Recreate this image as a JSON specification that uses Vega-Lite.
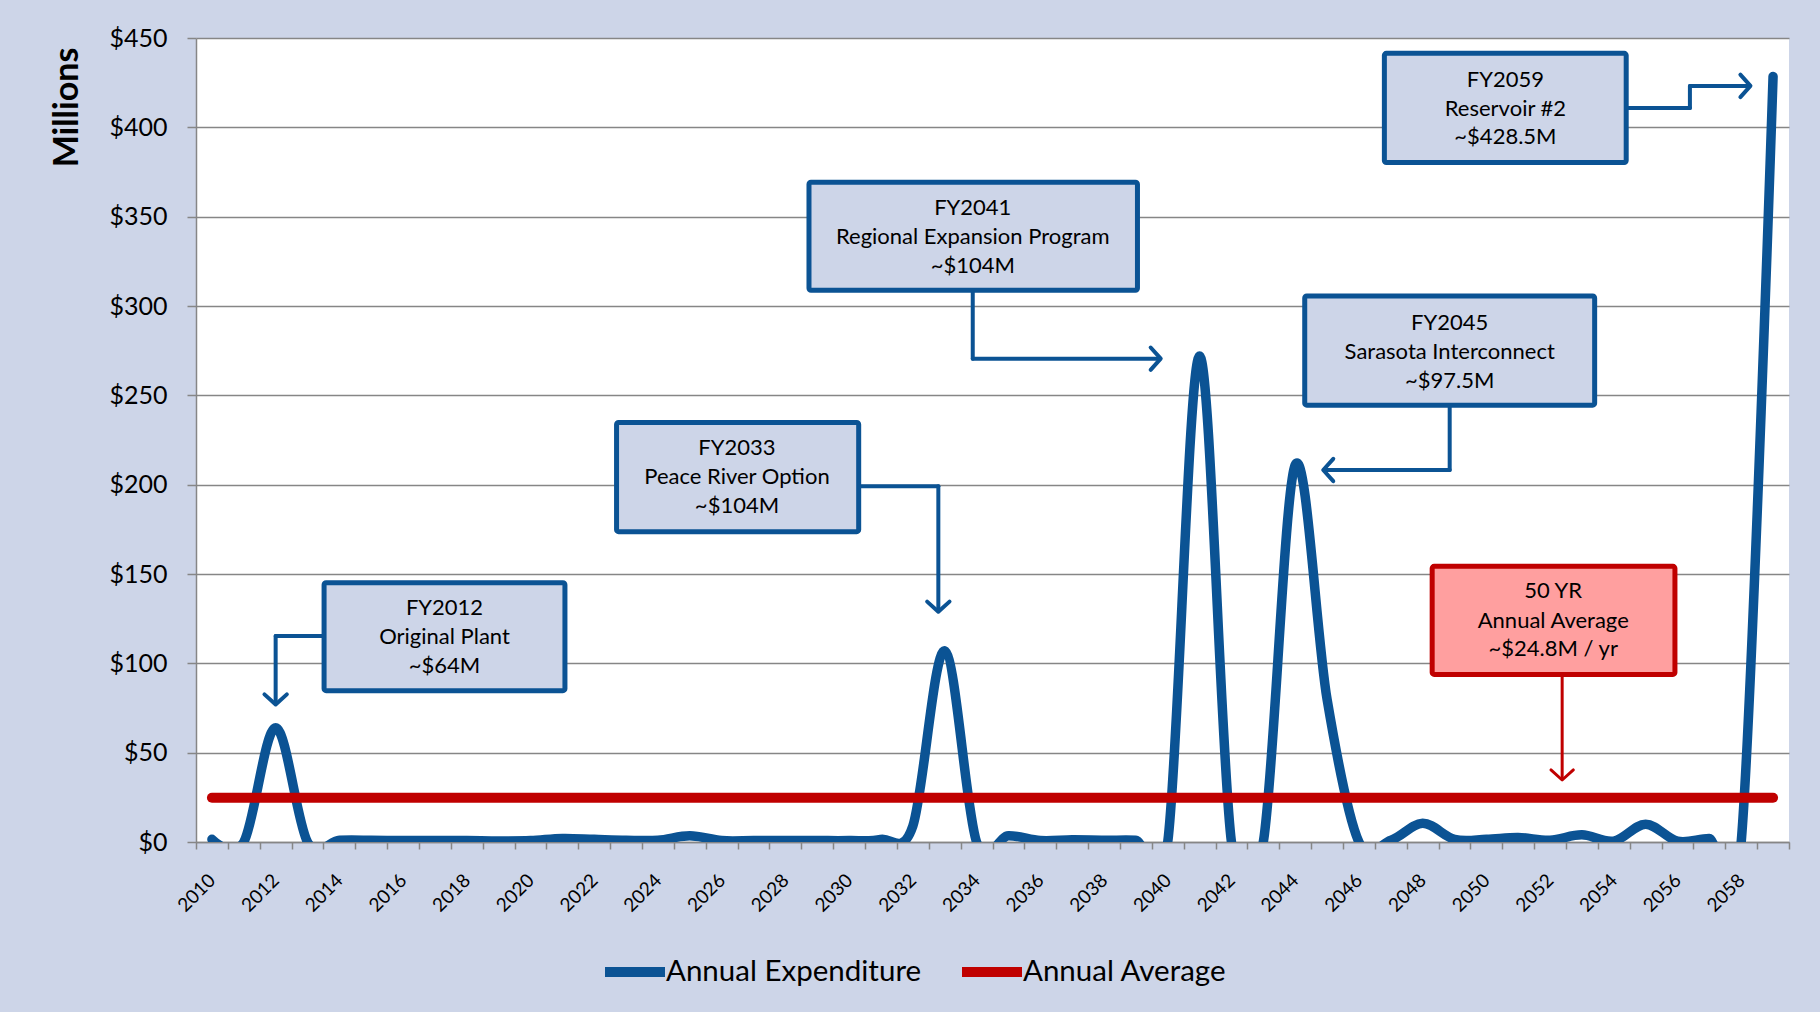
{
  "$schema": "https://vega.github.io/schema/vega-lite/v6.json",
  "width": 1593,
  "height": 804,
  "autosize": {"type": "none"},
  "padding": {"left": 196, "top": 38, "right": 31, "bottom": 170},
  "background": "#CDD5E8",
  "config": {
    "font": "Lato",
    "view": {"fill": "white", "stroke": null}
  },
  "datasets": {
    "exp": [
      {"year": 2010, "value": 1.5}, {"year": 2011, "value": 0}, {"year": 2012, "value": 64}, {"year": 2013, "value": 0},
      {"year": 2014, "value": 1}, {"year": 2015, "value": 1}, {"year": 2016, "value": 0.8}, {"year": 2017, "value": 0.8},
      {"year": 2018, "value": 0.8}, {"year": 2019, "value": 0.6}, {"year": 2020, "value": 0.8}, {"year": 2021, "value": 2},
      {"year": 2022, "value": 1.5}, {"year": 2023, "value": 1}, {"year": 2024, "value": 1}, {"year": 2025, "value": 3.5},
      {"year": 2026, "value": 0.8}, {"year": 2027, "value": 0.8}, {"year": 2028, "value": 0.8}, {"year": 2029, "value": 0.8},
      {"year": 2030, "value": 0.8}, {"year": 2031, "value": 1.5}, {"year": 2032, "value": 9}, {"year": 2033, "value": 107},
      {"year": 2034, "value": 0}, {"year": 2035, "value": 3.5}, {"year": 2036, "value": 0.8}, {"year": 2037, "value": 1.2},
      {"year": 2038, "value": 1}, {"year": 2039, "value": 1}, {"year": 2040, "value": 0}, {"year": 2041, "value": 272},
      {"year": 2042, "value": 0}, {"year": 2043, "value": 0}, {"year": 2044, "value": 211}, {"year": 2045, "value": 80},
      {"year": 2046, "value": 0}, {"year": 2047, "value": 1}, {"year": 2048, "value": 10.5}, {"year": 2049, "value": 1.5},
      {"year": 2050, "value": 1.5}, {"year": 2051, "value": 2.5}, {"year": 2052, "value": 1}, {"year": 2053, "value": 4},
      {"year": 2054, "value": 0.5}, {"year": 2055, "value": 10}, {"year": 2056, "value": 0.5}, {"year": 2057, "value": 2},
      {"year": 2058, "value": 0}, {"year": 2059, "value": 428.5}
    ],
    "avg": [
      {"year": 2010, "value": 24.8}, {"year": 2059, "value": 24.8}
    ],
    "boxes": [
      {"x1": 2013.52, "x2": 2021.08, "y1": 145.1, "y2": 84.7, "group": "expenditure"},
      {"x1": 2022.7, "x2": 2030.3, "y1": 234.8, "y2": 173.7, "group": "expenditure"},
      {"x1": 2028.74, "x2": 2039.05, "y1": 369.3, "y2": 308.8, "group": "expenditure"},
      {"x1": 2044.3, "x2": 2053.4, "y1": 305.6, "y2": 244.5, "group": "expenditure"},
      {"x1": 2046.8, "x2": 2054.39, "y1": 441.4, "y2": 380.3, "group": "expenditure"},
      {"x1": 2048.3, "x2": 2055.92, "y1": 154.3, "y2": 93.8, "group": "average"}
    ],
    "labels": [
      {"x": 2017.3, "y": 131, "text": "FY2012"},
      {"x": 2017.3, "y": 114.7, "text": "Original Plant"},
      {"x": 2017.3, "y": 98.5, "text": "~$64M"},
      {"x": 2026.48, "y": 220.5, "text": "FY2033"},
      {"x": 2026.48, "y": 204.3, "text": "Peace River Option"},
      {"x": 2026.48, "y": 188, "text": "~$104M"},
      {"x": 2033.88, "y": 355, "text": "FY2041"},
      {"x": 2033.88, "y": 338.7, "text": "Regional Expansion Program"},
      {"x": 2033.88, "y": 322.5, "text": "~$104M"},
      {"x": 2048.85, "y": 290.7, "text": "FY2045"},
      {"x": 2048.85, "y": 274.4, "text": "Sarasota Interconnect"},
      {"x": 2048.85, "y": 258.2, "text": "~$97.5M"},
      {"x": 2050.6, "y": 426.4, "text": "FY2059"},
      {"x": 2050.6, "y": 410.2, "text": "Reservoir #2"},
      {"x": 2050.6, "y": 394.6, "text": "~$428.5M"},
      {"x": 2052.1, "y": 140.6, "text": "50 YR"},
      {"x": 2052.1, "y": 123.7, "text": "Annual Average"},
      {"x": 2052.1, "y": 108.1, "text": "~$24.8M / yr"}
    ],
    "segs": [
      {"x": 2013.52, "x2": 2012.0, "y": 115.3, "y2": 115.3, "group": "expenditure"},
      {"x": 2012.0, "x2": 2012.0, "y": 115.3, "y2": 78, "group": "expenditure"},
      {"x": 2030.3, "x2": 2032.8, "y": 199.1, "y2": 199.1, "group": "expenditure"},
      {"x": 2032.8, "x2": 2032.8, "y": 199.1, "y2": 130, "group": "expenditure"},
      {"x": 2033.88, "x2": 2033.88, "y": 308.8, "y2": 270.5, "group": "expenditure"},
      {"x": 2033.88, "x2": 2039.72, "y": 270.5, "y2": 270.5, "group": "expenditure"},
      {"x": 2048.85, "x2": 2048.85, "y": 244.5, "y2": 208.2, "group": "expenditure"},
      {"x": 2048.85, "x2": 2044.95, "y": 208.2, "y2": 208.2, "group": "expenditure"},
      {"x": 2054.39, "x2": 2056.39, "y": 410.8, "y2": 410.8, "group": "expenditure"},
      {"x": 2056.39, "x2": 2056.39, "y": 410.8, "y2": 423.2, "group": "expenditure"},
      {"x": 2056.39, "x2": 2058.22, "y": 423.2, "y2": 423.2, "group": "expenditure"},
      {"x": 2052.38, "x2": 2052.38, "y": 93.8, "y2": 36, "group": "average"}
    ],
    "heads": [
      {"x": 2012.0, "y": 77, "dir": "down", "group": "expenditure"},
      {"x": 2032.8, "y": 128.9, "dir": "down", "group": "expenditure"},
      {"x": 2039.78, "y": 270.5, "dir": "right", "group": "expenditure"},
      {"x": 2044.88, "y": 208.2, "dir": "left", "group": "expenditure"},
      {"x": 2058.29, "y": 423.2, "dir": "right", "group": "expenditure"},
      {"x": 2052.38, "y": 34.7, "dir": "down", "group": "average"}
    ]
  },
  "layer": [
    {
      "data": {"name": "exp"},
      "mark": {"type": "line", "interpolate": "cardinal", "strokeWidth": 9.5, "clip": true, "strokeCap": "round", "strokeJoin": "round"},
      "encoding": {
        "x": {
          "field": "year", "type": "quantitative",
          "scale": {"domain": [2009.5, 2059.5], "nice": false, "zero": false},
          "axis": {
            "title": null,
            "tickCount": 500,
            "values": [2009.5, 2010, 2010.5, 2011.5, 2012, 2012.5, 2013.5, 2014, 2014.5, 2015.5, 2016, 2016.5, 2017.5, 2018, 2018.5, 2019.5, 2020, 2020.5, 2021.5, 2022, 2022.5, 2023.5, 2024, 2024.5, 2025.5, 2026, 2026.5, 2027.5, 2028, 2028.5, 2029.5, 2030, 2030.5, 2031.5, 2032, 2032.5, 2033.5, 2034, 2034.5, 2035.5, 2036, 2036.5, 2037.5, 2038, 2038.5, 2039.5, 2040, 2040.5, 2041.5, 2042, 2042.5, 2043.5, 2044, 2044.5, 2045.5, 2046, 2046.5, 2047.5, 2048, 2048.5, 2049.5, 2050, 2050.5, 2051.5, 2052, 2052.5, 2053.5, 2054, 2054.5, 2055.5, 2056, 2056.5, 2057.5, 2058, 2058.5, 2059.5],
            "grid": false,
            "domainColor": "#868686", "domainWidth": 1.5,
            "tickColor": "#868686", "tickWidth": 1.5, "tickSize": 7,
            "tickOpacity": {"condition": {"test": "datum.value % 1 === 0", "value": 0}, "value": 1},
            "labelExpr": "datum.value % 1 === 0 ? '' + datum.value : ''",
            "labelAngle": -45, "labelAlign": "right", "labelBaseline": "middle",
            "labelPadding": 28, "labelFontSize": 19, "labelColor": "black",
            "labelOverlap": false, "labelFlush": false, "labelBound": false
          }
        },
        "y": {
          "field": "value", "type": "quantitative",
          "scale": {"domain": [0, 450], "nice": false},
          "axis": {
            "title": "Millions", "titleFontSize": 34, "titleFontWeight": "bold", "titleColor": "black",
            "titleAngle": -90, "titleX": -129, "titleY": 69, "titleAlign": "center", "titleBaseline": "middle",
            "tickCount": 50,
            "values": [0, 50, 100, 150, 200, 250, 300, 350, 400, 450],
            "labelExpr": "'$' + datum.value",
            "labelFontSize": 25, "labelColor": "black", "labelPadding": 20,
            "tickSize": 9, "tickColor": "#868686", "tickWidth": 1.5,
            "domainColor": "#868686", "domainWidth": 1.5,
            "gridColor": "#868686", "gridWidth": 1.5
          }
        },
        "color": {
          "datum": "Annual Expenditure", "type": "nominal",
          "scale": {"domain": ["Annual Expenditure", "Annual Average"], "range": ["#0B5394", "#C00000"]},
          "legend": {
            "orient": "none", "legendX": 404, "legendY": 899, "direction": "horizontal", "title": null,
            "symbolType": "stroke", "symbolSize": 3600, "symbolStrokeWidth": 10,
            "labelFontSize": 29.5, "labelColor": "black", "labelOffset": -4, "labelLimit": 600,
            "columnPadding": 20, "padding": 0
          }
        }
      }
    },
    {
      "data": {"name": "avg"},
      "mark": {"type": "line", "strokeWidth": 10, "strokeCap": "round"},
      "encoding": {
        "x": {"field": "year", "type": "quantitative"},
        "y": {"field": "value", "type": "quantitative"},
        "color": {"datum": "Annual Average", "type": "nominal"}
      }
    },
    {
      "data": {"name": "segs"},
      "mark": {"type": "rule", "strokeCap": "round"},
      "encoding": {
        "x": {"field": "x", "type": "quantitative"},
        "x2": {"field": "x2"},
        "y": {"field": "y", "type": "quantitative"},
        "y2": {"field": "y2"},
        "stroke": {"condition": {"test": "datum.group === 'average'", "value": "#C00000"}, "value": "#0B5394"},
        "strokeWidth": {"condition": {"test": "datum.group === 'average'", "value": 3}, "value": 4}
      }
    },
    {
      "data": {"name": "heads"},
      "mark": {"type": "point", "shape": "M-0.9,-1L0,0L-0.9,1", "filled": false, "size": 500, "strokeCap": "round", "strokeJoin": "round", "opacity": 1},
      "encoding": {
        "x": {"field": "x", "type": "quantitative"},
        "y": {"field": "y", "type": "quantitative"},
        "angle": {"condition": [{"test": "datum.dir === 'down'", "value": 90}, {"test": "datum.dir === 'left'", "value": 180}], "value": 0},
        "stroke": {"condition": {"test": "datum.group === 'average'", "value": "#C00000"}, "value": "#0B5394"},
        "strokeWidth": {"condition": {"test": "datum.group === 'average'", "value": 3}, "value": 4}
      }
    },
    {
      "data": {"name": "boxes"},
      "mark": {"type": "rect", "strokeWidth": 5, "cornerRadius": 2},
      "encoding": {
        "x": {"field": "x1", "type": "quantitative"},
        "x2": {"field": "x2"},
        "y": {"field": "y1", "type": "quantitative"},
        "y2": {"field": "y2"},
        "fill": {"condition": {"test": "datum.group === 'average'", "value": "#FF9F9F"}, "value": "#CDD5E8"},
        "stroke": {"condition": {"test": "datum.group === 'average'", "value": "#C00000"}, "value": "#0B5394"}
      }
    },
    {
      "data": {"name": "labels"},
      "mark": {"type": "text", "fontSize": 22, "color": "black", "align": "center", "baseline": "middle"},
      "encoding": {
        "x": {"field": "x", "type": "quantitative"},
        "y": {"field": "y", "type": "quantitative"},
        "text": {"field": "text"}
      }
    }
  ]
}
